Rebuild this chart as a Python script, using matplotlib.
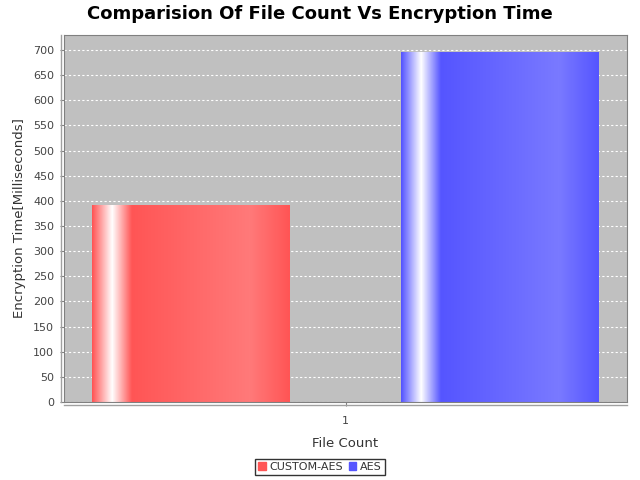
import matplotlib.pyplot as plt
import numpy as np
from matplotlib.lines import Line2D
from matplotlib.patches import Rectangle

plt.rcParams['font.family'] = ['DejaVu Sans']

categories = ['1']
series = ['CUSTOM-AES', 'AES']
values = [391, 696]
colors = [(255, 85, 85), (85, 85, 255)]


def gradient_row(rgb, n=200):
    # jfreechart style: c0 -> white -> c0 -> brighter -> c0
    c0 = np.array(rgb) / 255.0
    c1 = np.minimum(np.array(rgb) / 0.7, 255) / 255.0
    white = np.ones(3)
    t = np.linspace(0, 1, n)
    out = np.zeros((n, 3))
    for i, v in enumerate(t):
        if v < 0.10:
            f = v / 0.10
            out[i] = c0 + (white - c0) * f
        elif v < 0.20:
            f = (v - 0.10) / 0.10
            out[i] = white + (c0 - white) * f
        elif v < 0.80:
            f = (v - 0.20) / 0.60
            out[i] = c0 + (c1 - c0) * f
        else:
            f = (v - 0.80) / 0.20
            out[i] = c1 + (c0 - c1) * f
    return out[np.newaxis, :, :]


fig = plt.figure(figsize=(6.4, 4.8), dpi=100)
ax = fig.add_axes([64 / 640, 1 - 402 / 480, 563 / 640, 367 / 480])
ax.set_facecolor('#c0c0c0')

width = 0.64
for i, (name, v, c) in enumerate(zip(series, values, colors)):
    ax.imshow(gradient_row(c), extent=[i - width / 2, i + width / 2, 0, v],
              aspect='auto', zorder=2, interpolation='bilinear')

ax.set_xlim(-0.41, 1.41)
ax.set_ylim(0, 730)

ax.set_yticks(np.arange(0, 701, 50))
ax.set_xticks([0.5])
ax.set_xticklabels(categories)
ax.yaxis.grid(True, color='white', linestyle=(0, (2, 2)), linewidth=0.8)
ax.set_axisbelow(True)
ax.tick_params(axis='both', colors='#808080', labelcolor='#444444',
               labelsize=8, length=3, width=0.8)
ax.tick_params(axis='y', pad=4)
ax.tick_params(axis='x', pad=7)
for s in ax.spines.values():
    s.set_color('#808080')
    s.set_linewidth(0.8)

# offset axis lines
fig.add_artist(Line2D([61 / 640, 61 / 640], [1 - 402 / 480, 1 - 35 / 480],
                      color='#a0a0a0', linewidth=1))
fig.add_artist(Line2D([64 / 640, 627 / 640], [1 - 405 / 480, 1 - 405 / 480],
                      color='#a0a0a0', linewidth=1))

ax.set_ylabel('Encryption Time[Milliseconds]', fontsize=9.5, color='#333333', labelpad=5)
ax.set_xlabel('File Count', fontsize=9.5, color='#333333', labelpad=8)
fig.suptitle('Comparision Of File Count Vs Encryption Time', fontsize=13,
             fontweight='bold', y=0.989, va='top')

handles = [Rectangle((0, 0), 1, 1, color=np.array(c) / 255) for c in colors]
leg = fig.legend(handles, series, loc='center', bbox_to_anchor=(0.5, 1 - 467 / 480),
                 ncol=2, fontsize=8, frameon=True, fancybox=False,
                 handlelength=0.7, handleheight=0.7, handletextpad=0.3,
                 columnspacing=0.5, borderpad=0.3, borderaxespad=0)
leg.get_frame().set_edgecolor('black')
leg.get_frame().set_linewidth(1)
for t in leg.get_texts():
    t.set_color('#333333')

plt.savefig('out.png', dpi=100)
